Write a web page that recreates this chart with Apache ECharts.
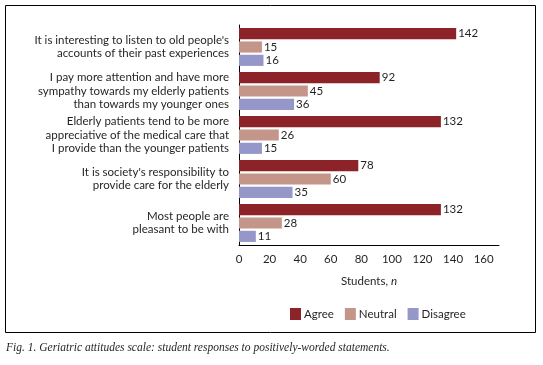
<!DOCTYPE html>
<html>
<head>
<meta charset="utf-8">
<script src="https://cdn.jsdelivr.net/npm/echarts@6/dist/echarts.min.js"></script>
<style>
html,body{margin:0;padding:0;background:#fff;}
#c{width:543px;height:365px;}
</style>
</head>
<body>
<div id="c"></div>
<script>
const statements = [
  "It is interesting to listen to old people's\naccounts of their past experiences",
  "I pay more attention and have more\nsympathy towards my elderly patients\nthan towards my younger ones",
  "Elderly patients tend to be more\nappreciative of the medical care that\nI provide than the younger patients",
  "It is society's responsibility to\nprovide care for the elderly",
  "Most people are\npleasant to be with"
];
const agree = [142, 92, 132, 78, 132];
const neutral = [15, 45, 26, 60, 28];
const disagree = [16, 36, 15, 35, 11];

const FONT = 'Lato';
const ink = '#231f20';

function bar(name, data, color){
  return {
    name, type:'bar', data, barGap:'20%', barCategoryGap:'14%',
    itemStyle:{color},
    label:{show:true, position:'right', distance:2, color:ink, fontFamily:FONT, fontSize:11.5}
  };
}

const c = echarts.init(document.getElementById('c'));
c.setOption({
  animation:false,
  textStyle:{fontFamily:FONT, color:ink},
  grid:{left:239, right:44, top:25, bottom:120},
  xAxis:{
    type:'value', min:0, max:170, interval:20,
    name:'Students, {i|n}', nameLocation:'middle', nameGap:30,
    nameTextStyle:{color:ink, fontFamily:FONT, fontSize:11.5,
      rich:{i:{fontStyle:'italic', fontFamily:FONT, fontSize:11.5, color:ink}}},
    axisLine:{show:true, lineStyle:{color:'#000', width:1}},
    axisTick:{show:false}, splitLine:{show:false},
    axisLabel:{color:ink, fontSize:11.5, margin:8, formatter:v=>v%20===0?String(v):''}
  },
  yAxis:{
    type:'category', data:statements, inverse:true,
    axisLine:{show:true, lineStyle:{color:'#000', width:1}},
    axisTick:{show:false},
    axisLabel:{color:ink, fontSize:11.5, lineHeight:13.5, margin:10, align:'right'}
  },
  legend:{
    left:285, top:303, itemWidth:11, itemHeight:12, itemGap:11,
    icon:'rect',
    textStyle:{color:ink, fontFamily:FONT, fontSize:11.5, padding:[0,0,0,-2]},
    data:['Agree','Neutral','Disagree']
  },
  series:[
    bar('Agree', agree, '#8b2328'),
    bar('Neutral', neutral, '#c4968a'),
    bar('Disagree', disagree, '#9597c9')
  ],
  graphic:[
    {type:'rect', shape:{x:5.5, y:5.5, width:530, height:327}, style:{fill:null, stroke:'#000', lineWidth:1}, silent:true},
    {type:'text', left:6, top:342, style:{text:'Fig. 1. Geriatric attitudes scale: student responses to positively-worded statements.', font:'italic 11.5px "Liberation Serif"', fill:ink}}
  ]
});
</script>
</body>
</html>
